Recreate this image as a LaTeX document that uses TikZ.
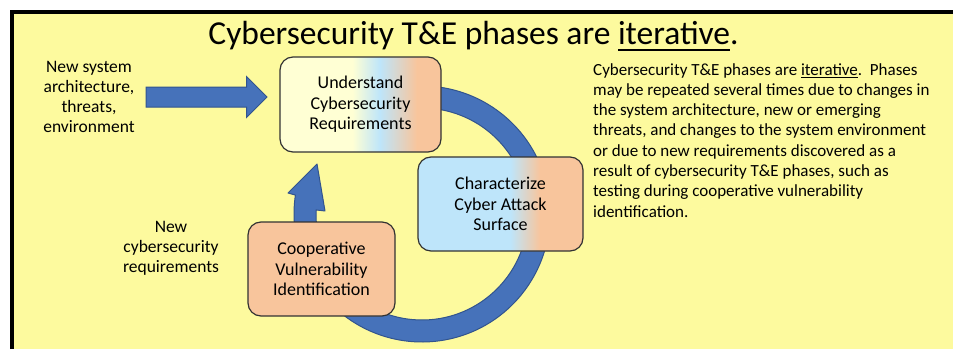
\documentclass[tikz,border=0pt]{standalone}
\usepackage{fontspec}
\setmainfont{Carlito}
\usepackage{tikz}
\usetikzlibrary{calc,shapes.arrows,arrows.meta,positioning}
\definecolor{bgyellow}{RGB}{253,250,158}
\definecolor{lightyel}{RGB}{255,255,212}
\definecolor{skyblue}{RGB}{190,229,250}
\definecolor{peach}{RGB}{248,197,156}
\definecolor{arrowblue}{RGB}{70,114,186}
\definecolor{arrowedge}{RGB}{50,84,142}
\pgfdeclarehorizontalshading{undshade}{100bp}{color(0bp)=(lightyel); color(47.5bp)=(lightyel); color(56bp)=(skyblue); color(67.5bp)=(peach); color(100bp)=(peach)}
\pgfdeclarehorizontalshading{charshade}{100bp}{color(0bp)=(skyblue); color(53bp)=(skyblue); color(62bp)=(peach); color(100bp)=(peach)}
\newcommand{\ulined}[3]{\setbox0\hbox{#3}\rlap{\rule[-#1]{\wd0}{#2}}\box0}
\tikzset{
  phasebox/.style={draw=black!80, line width=1.2pt, rounded corners=13pt, align=center,
    inner sep=0pt, font=\fontsize{18}{20.5}\selectfont},
  sidetext/.style={align=center, inner sep=0pt, font=\fontsize{17.5}{20}\selectfont},
  bigarrow/.style={single arrow, draw=arrowedge, fill=arrowblue, line width=1pt, inner sep=0pt,
    text height=19pt, text depth=0pt, single arrow head extend=10.5pt},
  ringarrow/.style={draw=arrowedge, fill=arrowblue, line width=1pt, line join=round}
}
\begin{document}
\begin{tikzpicture}[x=1pt,y=1pt]
\useasboundingbox (0,0) rectangle (953,349);
\fill[white] (0,0) rectangle (953,349);
\fill[bgyellow] (12,0) rectangle (953,337);
\draw[line width=4pt] (12,0) -- (12,337) -- (953,337);
% circular arrow of the cycle
\coordinate (ring) at (422,135);
\coordinate (headL) at (288,156);
\coordinate (headT) at (317,185);
\coordinate (headR) at (325,138);
\filldraw[ringarrow] ($(ring)+(100:128)$) arc[start angle=100, end angle=-188.5, radius=128]
  -- (headL) -- (headT) -- (headR) -- ($(ring)+(177.8:106)$)
  arc[start angle=-182.2, end angle=100, radius=106] -- cycle;
% phases
\node[phasebox, shading=undshade, minimum width=161pt, minimum height=95pt] (und) at (360.5,244.5)
  {Understand\\Cybersecurity\\Requirements};
\node[phasebox, shading=charshade, minimum width=165pt, minimum height=94pt] (char) at (500.5,145)
  {Characterize\\Cyber Attack\\Surface};
\node[phasebox, fill=peach, minimum width=147pt, minimum height=94pt] (coop) at (321.5,80)
  {Cooperative\\Vulnerability\\Identification};
% inputs
\node[sidetext] (newsys) at (89,252) {New system\\architecture,\\threats,\\environment};
\node[sidetext] (newreq) at (171,101) {New\\cybersecurity\\requirements};
\node[bigarrow, minimum height=121pt, minimum width=40pt] (inarrow) at (201.5,252) {};
% title and note
\node[anchor=base, inner sep=0pt, font=\fontsize{33.5}{36}\selectfont] (title) at (473.5,305)
  {Cybersecurity T\&E phases are \ulined{7pt}{2pt}{iterative}.};
\node[anchor=north west, align=left, inner sep=0pt, font=\fontsize{17}{20.3}\selectfont] (note) at (593,286)
  {Cybersecurity T\&E phases are \ulined{2.5pt}{0.8pt}{iterative}.\ \ Phases\\
   may be repeated several times due to changes in\\
   the system architecture, new or emerging\\
   threats, and changes to the system environment\\
   or due to new requirements discovered as a\\
   result of cybersecurity T\&E phases, such as\\
   testing during cooperative vulnerability\\
   identification.};
\end{tikzpicture}
\end{document}
